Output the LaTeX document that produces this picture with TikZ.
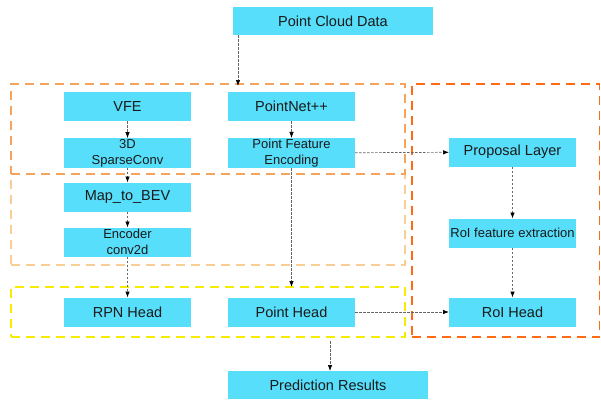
\documentclass[tikz,border=0pt]{standalone}
\usepackage{fontspec}
\setmainfont{Liberation Sans}
\usepackage{tikz}
\usetikzlibrary{arrows.meta, positioning, calc}

\definecolor{blkfill}{HTML}{56DEFA}
\definecolor{blktext}{HTML}{1A1A1A}
\definecolor{grpA}{HTML}{F6A45C}
\definecolor{grpB}{HTML}{F9CE94}
\definecolor{grpC}{HTML}{F5EC00}
\definecolor{grpD}{HTML}{FF6A14}

\begin{document}
\begin{tikzpicture}[x=1pt, y=-1pt,
    % module blocks
    blk/.style={fill=blkfill, text=blktext, minimum width=127pt, minimum height=29pt,
        inner sep=1pt, outer sep=0pt, align=center, font=\fontsize{14.5}{16}\selectfont},
    sblk/.style={blk, font=\fontsize{13}{16}\selectfont},
    wblk/.style={blk, minimum width=200pt, minimum height=28pt},
    % dashed stage frames
    grp/.style={draw, line width=1.4pt, dash pattern=on 9pt off 6pt, minimum width=394pt,
        inner sep=0pt, outer sep=0pt},
    % data flow
    flow/.style={draw=black!60, line width=0.7pt, dash pattern=on 2.5pt off 1.5pt,
        -{Latex[length=6pt, width=4.5pt, color=black]}}]

\useasboundingbox (0,0) rectangle (601,399);

% Stage frames
\node[grp, draw=grpB, minimum height=91pt] (bevgrp) at (208,219.5) {};
\node[grp, draw=grpA, minimum height=90pt] (encgrp) at (208,129) {};
\node[grp, draw=grpC, minimum height=50pt] (headgrp) at (208,312) {};
\node[grp, draw=grpD, minimum width=187.5pt, minimum height=253pt] (roigrp) at (505.75,210.5) {};

% Blocks
\node[wblk] (pcd) at (333,21) {Point Cloud Data};
\node[blk] (vfe) at (127.5,106.5) {VFE};
\node[sblk] (sparse) at (127.5,153) {3D\\SparseConv};
\node[blk] (pnet) at (291.5,106.5) {PointNet++};
\node[sblk] (pfe) at (291.5,153) {Point Feature\\Encoding};
\node[blk] (bev) at (127.5,197) {Map\_to\_BEV};
\node[sblk] (enc) at (127.5,242) {Encoder\\conv2d};
\node[blk] (rpn) at (127.5,312) {RPN Head};
\node[blk] (phead) at (291.5,312) {Point Head};
\node[blk] (prop) at (512.5,152) {Proposal Layer};
\node[sblk] (roif) at (512.5,233) {RoI feature extraction};
\node[blk] (roih) at (512.5,312) {RoI Head};
\node[wblk] (pred) at (328,385) {Prediction Results};

% Free ends on the frames
\coordinate (encin) at (238,84);
\coordinate (predout) at (330,341);

% Connections
\draw[flow] (pcd.south -| encin) -- ([yshift=-2pt]encin);
\draw[flow] (vfe) -- (sparse);
\draw[flow] (sparse) -- (bev);
\draw[flow] (bev) -- (enc);
\draw[flow] (enc) -- (rpn);
\draw[flow] (pnet) -- (pfe);
\draw[flow] (pfe) -- (pfe.south |- headgrp.north);
\draw[flow] (pfe) -- (prop);
\draw[flow] (prop) -- (roif);
\draw[flow] (roif) -- (roih);
\draw[flow] (phead) -- (roih);
\draw[flow] (predout) -- (predout |- pred.north);

\end{tikzpicture}
\end{document}
